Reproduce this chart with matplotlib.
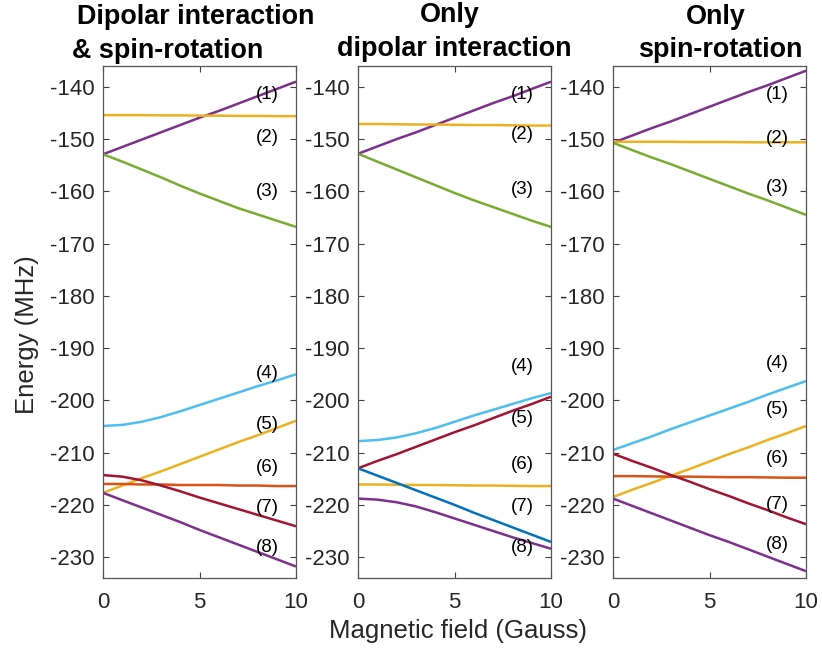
import matplotlib.pyplot as plt

plt.rcParams['font.family'] = ['Liberation Sans', 'DejaVu Sans']
plt.rcParams['axes.unicode_minus'] = False

# campo magnetico (Gauss)
campo = [0, 1, 2, 3, 4, 5, 6, 7, 8, 9, 10]

# interacao dipolar + spin-rotacao
dip_sr = [
    [-152.9, -151.5, -150.1, -148.7, -147.3, -145.9, -144.6, -143.2, -141.8, -140.4, -139.0],
    [-145.4, -145.4, -145.4, -145.45, -145.45, -145.5, -145.5, -145.55, -145.55, -145.6, -145.6],
    [-152.9, -154.3, -155.8, -157.3, -158.9, -160.4, -161.8, -163.2, -164.4, -165.6, -166.8],
    [-204.9, -204.7, -204.1, -203.2, -202.1, -200.9, -199.7, -198.5, -197.3, -196.2, -195.0],
    [-217.7, -216.3, -214.9, -213.6, -212.2, -210.8, -209.4, -208.0, -206.7, -205.3, -203.9],
    [-216.0, -216.0, -216.1, -216.1, -216.2, -216.2, -216.2, -216.3, -216.3, -216.4, -216.4],
    [-214.3, -214.6, -215.3, -216.3, -217.4, -218.6, -219.7, -220.8, -221.9, -223.0, -224.1],
    [-217.7, -219.1, -220.5, -221.9, -223.3, -224.8, -226.2, -227.6, -229.0, -230.4, -231.8],
]

# so interacao dipolar
dip = [
    [-152.8, -151.4, -150.0, -148.7, -147.3, -145.9, -144.5, -143.1, -141.8, -140.4, -139.0],
    [-147.1, -147.1, -147.15, -147.2, -147.2, -147.25, -147.3, -147.3, -147.35, -147.4, -147.4],
    [-152.8, -154.3, -155.8, -157.3, -158.8, -160.3, -161.7, -163.0, -164.3, -165.6, -166.8],
    [-207.8, -207.6, -207.1, -206.3, -205.3, -204.1, -202.9, -201.8, -200.7, -199.6, -198.6],
    [-213.0, -211.6, -210.3, -208.9, -207.5, -206.1, -204.8, -203.4, -202.0, -200.7, -199.3],
    [-216.1, -216.1, -216.15, -216.2, -216.2, -216.25, -216.3, -216.3, -216.35, -216.4, -216.4],
    [-213.0, -214.4, -215.8, -217.2, -218.6, -220.0, -221.5, -222.9, -224.3, -225.7, -227.1],
    [-218.8, -219.0, -219.5, -220.3, -221.4, -222.6, -223.8, -225.0, -226.2, -227.3, -228.4],
]

# so spin-rotacao
sr = [
    [-150.7, -149.3, -147.9, -146.6, -145.2, -143.8, -142.4, -141.0, -139.7, -138.3, -136.9],
    [-150.5, -150.5, -150.5, -150.5, -150.55, -150.55, -150.55, -150.6, -150.6, -150.6, -150.6],
    [-150.7, -152.1, -153.5, -154.8, -156.2, -157.6, -159.0, -160.4, -161.7, -163.1, -164.5],
    [-209.5, -208.2, -206.9, -205.5, -204.2, -202.9, -201.6, -200.3, -198.9, -197.6, -196.3],
    [-218.5, -217.1, -215.8, -214.4, -213.1, -211.7, -210.3, -209.0, -207.6, -206.3, -204.9],
    [-214.5, -214.5, -214.55, -214.6, -214.6, -214.65, -214.7, -214.7, -214.75, -214.8, -214.8],
    [-210.2, -211.6, -212.9, -214.3, -215.6, -217.0, -218.3, -219.7, -221.0, -222.4, -223.7],
    [-218.8, -220.2, -221.6, -223.0, -224.4, -225.8, -227.1, -228.5, -229.9, -231.3, -232.7],
]

rotulos = ['(1)', '(2)', '(3)', '(4)', '(5)', '(6)', '(7)', '(8)']
y_rotulos = [
    [-141.4, -149.6, -160.1, -194.8, -204.6, -212.8, -220.5, -228.1],
    [-141.4, -149.2, -159.7, -193.6, -203.4, -212.2, -220.3, -228.1],
    [-141.4, -149.8, -159.2, -192.9, -201.7, -211.1, -219.9, -227.5],
]

# cores padrao do MATLAB
roxo = '#7E2F8E'
amarelo = '#EDB120'
verde = '#77AC30'
ciano = '#4DBEEE'
vinho = '#A2142F'
laranja = '#D95319'
azul = '#0072BD'

cores = [
    [roxo, amarelo, verde, ciano, amarelo, laranja, vinho, roxo],
    [roxo, amarelo, verde, ciano, vinho, amarelo, azul, roxo],
    [roxo, amarelo, verde, ciano, amarelo, laranja, vinho, roxo],
]

fig = plt.figure(figsize=(8.22, 6.49), dpi=100)
W, H = 822, 649
esquerdas = [103, 358, 613]
topo, base, largura = 66, 578, 193

for i, dados in enumerate([dip_sr, dip, sr]):
    ax = fig.add_axes([esquerdas[i] / W, (H - base) / H, largura / W, (base - topo) / H])
    for serie, cor in zip(dados, cores[i]):
        ax.plot(campo, serie, color=cor, lw=1.8, solid_capstyle='butt')
    for txt, yy in zip(rotulos, y_rotulos[i]):
        ax.text(8.5, yy, txt, ha='center', va='center', fontsize=13.5, color='black')
    ax.set_xlim(0, 10)
    ax.set_ylim(-234, -136)
    ax.set_xticks([0, 5, 10])
    ax.set_yticks(range(-230, -139, 10))
    ax.tick_params(direction='in', length=4, width=0.8, top=True, right=True,
                   labelsize=16, colors='#404040', labelcolor='#262626', pad=6)
    ax.tick_params(axis='x', pad=10)
    for s in ax.spines.values():
        s.set_color('#555555')
        s.set_linewidth(0.9)

# titulos de cada painel
tfont = dict(fontsize=19.4, fontweight='bold', ha='center', va='baseline')
fig.text(196 / W, 1 - 24 / H, 'Dipolar interaction', **tfont)
fig.text(168 / W, 1 - 58 / H, '& spin-rotation', **tfont)
fig.text(450 / W, 1 - 22 / H, 'Only', **tfont)
fig.text(454 / W, 1 - 56 / H, 'dipolar interaction', **tfont)
fig.text(716 / W, 1 - 24 / H, 'Only', **tfont)
fig.text(720 / W, 1 - 57 / H, 'spin-rotation', **tfont)

fig.text(458 / W, 1 - 638 / H, 'Magnetic field (Gauss)', fontsize=18.5,
         ha='center', va='baseline', color='#262626')
fig.text(27 / W, 1 - 335 / H, 'Energy (MHz)', fontsize=18.5, rotation=90,
         ha='center', va='center', color='#262626')

plt.savefig('out.png', dpi=100)
